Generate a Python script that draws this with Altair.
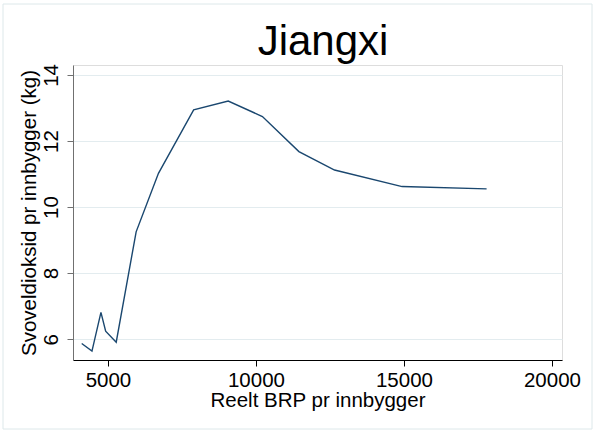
import altair as alt
import pandas as pd

gdp = [4114, 4461, 4764, 4923, 5280, 5953, 6707, 7896, 9064, 10219, 11452, 12656, 14939, 17793]
so2 = [5.87, 5.64, 6.81, 6.24, 5.91, 9.25, 11.02, 12.94, 13.21, 12.74, 11.68, 11.12, 10.62, 10.55]
x_ticks = [5000, 10000, 15000, 20000]
y_ticks = [6, 8, 10, 12, 14]
title_text = "Jiangxi"

df = pd.DataFrame({"gdp": gdp, "so2": so2, "order": list(range(len(gdp)))})

FONT = "Liberation Sans"
FS = 20.5

line = alt.Chart(df).mark_line(color="#1a476f", strokeWidth=1.4, clip=True).encode(
    x=alt.X("gdp:Q",
            scale=alt.Scale(domain=[3820, 20340], nice=False, zero=False),
            axis=alt.Axis(values=x_ticks, format="d", title="Reelt BRP pr innbygger", grid=False,
                          domainColor="#000000", tickColor="#000000", tickSize=6,
                          labelFontSize=FS, titleFontSize=FS, labelFont=FONT, titleFont=FONT,
                          labelColor="#000000", titleColor="#000000", titleFontWeight="normal",
                          labelPadding=4, titlePadding=0, labelFlush=False, labelOverlap=False)),
    y=alt.Y("so2:Q",
            scale=alt.Scale(domain=[5.37, 14.3], nice=False, zero=False),
            axis=alt.Axis(values=y_ticks, format="d", title="Svoveldioksid pr innbygger (kg)", grid=True,
                          gridColor="#e3ecef", gridWidth=1,
                          domainColor="#707070", tickColor="#707070", tickSize=6,
                          labelAngle=-90, labelAlign="center", labelBaseline="bottom",
                          labelFontSize=FS, titleFontSize=FS, labelFont=FONT, titleFont=FONT,
                          labelColor="#000000", titleColor="#000000", titleFontWeight="normal",
                          labelPadding=6, titlePadding=2, labelFlush=False, labelOverlap=False)),
    order="order:Q",
)

frame = alt.Chart(pd.DataFrame({"a": [0]})).mark_rect(
    fillOpacity=0, stroke="#dde8ea", strokeWidth=1
).encode(x=alt.value(-70), x2=alt.value(519), y=alt.value(-61), y2=alt.value(364))

title = alt.Chart(pd.DataFrame({"t": [title_text]})).mark_text(
    font=FONT, fontSize=42, color="#000000", align="center", baseline="alphabetic"
).encode(text="t:N", x=alt.value(250), y=alt.value(-10))

chart = alt.layer(frame, line, title).properties(
    width=489, height=295,
    autosize=alt.AutoSizeParams(type="none"),
    padding={"left": 73, "top": 65, "right": 33, "bottom": 72},
).configure_view(stroke=None).configure(background="white")

chart.save("out.html", embed_options={"renderer": "svg", "actions": False})
